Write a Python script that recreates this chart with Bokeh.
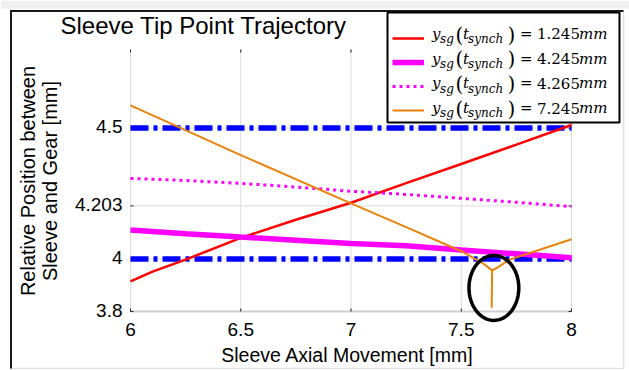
import numpy as np
from bokeh.plotting import figure
from bokeh.models import (Range1d, Legend, LegendItem, Label, BoxAnnotation, PolyAnnotation)
from bokeh.core.properties import value
from bokeh.embed import file_html
from bokeh.resources import INLINE

# ---------------- data ----------------
x_ticks = [6, 6.5, 7, 7.5, 8]
x_tick_labels = ["6", "6.5", "7", "7.5", "8"]
y_ticks = [3.8, 4.0, 4.203, 4.5]
y_tick_labels = ["3.8", "4", "4.203", "4.5"]
x_lim = [6, 8]
y_lim = [3.8, 4.8]

red_x = [6.0, 6.1, 6.25, 6.5, 6.75, 7.0, 7.25, 7.5, 7.75, 8.0]
red_y = [3.915, 3.952, 3.998, 4.081, 4.150, 4.215, 4.290, 4.363, 4.437, 4.512]

mag_x = [6.0, 6.25, 6.5, 6.75, 7.0, 7.25, 7.5, 7.75, 8.0]
mag_y = [4.111, 4.097, 4.084, 4.072, 4.060, 4.051, 4.035, 4.020, 4.005]

dot_x = [6.0, 6.25, 6.5, 6.75, 7.0, 7.25, 7.5, 7.75, 8.0]
dot_y = [4.308, 4.300, 4.289, 4.275, 4.259, 4.247, 4.232, 4.217, 4.200]

org_x = [6.0, 6.5, 7.0, 7.25, 7.5, 7.595, 7.640, 7.638, 7.640, 7.663, 7.716, 8.0]
org_y = [4.587, 4.397, 4.213, 4.122, 4.030, 3.986, 3.957, 3.814, 3.957, 3.967, 3.997, 4.076]

limit_x = [6, 8]
limit_low = [4.0, 4.0]
limit_high = [4.5, 4.5]

legend_values = ["1.245", "4.245", "4.265", "7.245"]

# highlight ellipse (data units)
ell_cx, ell_cy, ell_rx, ell_ry = 7.648, 3.89, 0.113, 0.124

# ---------------- layout (pixels) ----------------
W, H = 629, 370
PX_L, PX_R = 130, 571      # screen x of x_lim
PY_T, PY_B = 49, 311       # screen y of y_lim top / bottom
sx_per = (PX_R - PX_L) / (x_lim[1] - x_lim[0])
sy_per = (PY_B - PY_T) / (y_lim[1] - y_lim[0])
x_range = Range1d(x_lim[0] - PX_L / sx_per, x_lim[1] + (W - PX_R) / sx_per)
y_range = Range1d(y_lim[0] - (H - PY_B) / sy_per, y_lim[1] + PY_T / sy_per)

SANS = "Liberation Sans"
SERIF = "DejaVu Serif"
BASE_K = 0.42   # renderer places the 'alphabetic' anchor ~0.42em above the glyph baseline

p = figure(width=W, height=H, output_backend="svg", toolbar_location=None,
           x_range=x_range, y_range=y_range,
           x_axis_location=None, y_axis_location=None,
           min_border=0, min_border_left=0, min_border_right=0,
           min_border_top=0, min_border_bottom=0,
           background_fill_color="white", border_fill_color="white",
           outline_line_color=None)
p.title.visible = False
p.grid.visible = False

def sy(page_y):
    return H - page_y

def screen_box(left, right, top, bottom, **kw):
    p.add_layout(BoxAnnotation(left=left, right=right, top=sy(top), bottom=sy(bottom),
                               left_units="screen", right_units="screen",
                               top_units="screen", bottom_units="screen", **kw))

# ---------------- outer picture frame ----------------
screen_box(0, W, 0, 8, fill_color="#f0f0f0", fill_alpha=1, line_color=None)
screen_box(10.5, 623, 10.5, 368, fill_alpha=0, line_color="#a0a0a0", line_width=1.5)
screen_box(9.5, 11.5, 9.5, 368, fill_color="#1a1a1a", fill_alpha=1, line_color=None)
screen_box(9.5, 623, 9.5, 11.5, fill_color="#1a1a1a", fill_alpha=1, line_color=None)

# ---------------- grid, axes, ticks ----------------
grid_col = "#dcdcdc"
p.segment(x0=x_ticks, y0=[y_lim[0]] * len(x_ticks), x1=x_ticks, y1=[y_lim[1]] * len(x_ticks),
          line_color=grid_col, line_width=1)
p.segment(x0=[x_lim[0]] * len(y_ticks), y0=y_ticks, x1=[x_lim[1]] * len(y_ticks), y1=y_ticks,
          line_color=grid_col, line_width=1)
p.segment(x0=[x_lim[0]], y0=[y_lim[0]], x1=[x_lim[1]], y1=[y_lim[0]],
          line_color="#cfcfcf", line_width=2)

tick_col = "#222222"
p.ray(x=[x_lim[0]] * len(y_ticks), y=y_ticks, length=3, length_units="screen",
      angle=0, line_color=tick_col, line_width=1)
p.ray(x=[x_lim[1]] * len(y_ticks), y=y_ticks, length=3, length_units="screen",
      angle=np.pi, line_color=tick_col, line_width=1)
p.ray(x=x_ticks, y=[y_lim[0]] * len(x_ticks), length=3, length_units="screen",
      angle=np.pi / 2, line_color=tick_col, line_width=1)
p.ray(x=x_ticks, y=[y_lim[1]] * len(x_ticks), length=3, length_units="screen",
      angle=-np.pi / 2, line_color=tick_col, line_width=1)

TICK_SIZE = 19
p.text(x=x_ticks, y=[y_lim[0]] * len(x_ticks), text=x_tick_labels,
       text_align="center", text_baseline="alphabetic", y_offset=26 - BASE_K * TICK_SIZE,
       text_font=value(SANS), text_font_size=value(f"{TICK_SIZE}px"), text_color="black")
p.text(x=[x_lim[0]] * len(y_ticks), y=y_ticks, text=y_tick_labels,
       text_align="right", text_baseline="alphabetic", x_offset=-8,
       y_offset=6.5 - BASE_K * TICK_SIZE,
       text_font=value(SANS), text_font_size=value(f"{TICK_SIZE}px"), text_color="black")

def label(txt, x, page_y, size, font=SANS, italic=False, align="left", angle=0.0, level="annotation"):
    shift = BASE_K * size
    if angle:
        x, py = x - shift, page_y
    else:
        py = page_y - shift
    p.add_layout(Label(x=x, y=sy(py), x_units="screen", y_units="screen", text=txt,
                       text_font=font, text_font_size=f"{size}px", angle=angle,
                       text_font_style="italic" if italic else "normal",
                       text_baseline="alphabetic", text_align=align,
                       text_color="black", level=level))

label("Sleeve Tip Point Trajectory", 60, 35, 24)
label("Sleeve Axial Movement [mm]", 347, 363, 19.5, align="center")
label("Relative Position between", 36, 180.5, 20, align="center", angle=np.pi / 2)
label("Sleeve and Gear [mm]", 58, 180.5, 20, align="center", angle=np.pi / 2)

# ---------------- lines ----------------
blue = "#0000ff"
p.line(limit_x, limit_high, line_color=blue, line_width=5.5, line_dash="18 5 4 5")
p.line(limit_x, limit_low, line_color=blue, line_width=5.5, line_dash="18 5 4 5")

r_red = p.line(red_x, red_y, line_color="#ff0000", line_width=2.5)
r_mag = p.line(mag_x, mag_y, line_color="#ff00ff", line_width=5.5)
r_dot = p.line(dot_x, dot_y, line_color="#ff00ff", line_width=3, line_dash="3 4")
r_org = p.line(org_x, org_y, line_color="#e8820c", line_width=2)

t = np.linspace(0, 2 * np.pi, 80)
p.add_layout(PolyAnnotation(xs=list(ell_cx + ell_rx * np.cos(t)),
                            ys=list(ell_cy + ell_ry * np.sin(t)),
                            fill_alpha=0, line_color="black", line_alpha=1, line_width=3.5))

# ---------------- legend ----------------
screen_box(387, 619, 12, 122, fill_color="white", fill_alpha=1,
           line_color="black", line_alpha=1, line_width=2)

legend = Legend(items=[LegendItem(label=" ", renderers=[r]) for r in (r_red, r_mag, r_dot, r_org)],
                location=(392, sy(121.5)), padding=0, spacing=0, margin=0,
                glyph_width=32, glyph_height=24, label_height=24, label_width=180,
                label_standoff=5, label_text_font_size="10px",
                border_line_color=None, background_fill_alpha=0)
p.add_layout(legend)

for k, v in enumerate(legend_values):
    base = 39.5 + 24.8 * k
    label("y", 431.5, base, 15, SERIF, True, level="overlay")
    label("sg", 439.5, base + 4, 12, SERIF, True, level="overlay")
    label("(", 455, base + 3, 20, SERIF, level="overlay")
    label("t", 462.5, base, 15, SERIF, True, level="overlay")
    label("synch", 467.5, base + 4, 12, SERIF, True, level="overlay")
    label(")", 507, base + 3, 20, SERIF, level="overlay")
    label("=", 519.5, base, 15, SERIF, level="overlay")
    label(v, 536.5, base, 15, SERIF, level="overlay")
    label("mm", 578.5, base, 15, SERIF, True, level="overlay")

open("out.html", "w").write(file_html(p, INLINE))
